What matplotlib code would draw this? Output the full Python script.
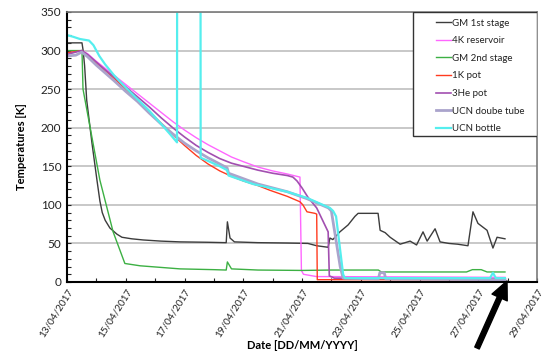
import numpy as np
import matplotlib

matplotlib.use("Agg")
import matplotlib.pyplot as plt
import matplotlib.dates as mdates
from matplotlib.patches import Rectangle

plt.rcParams["font.family"] = ["Lato", "DejaVu Sans"]

# time in days of April 2017, temperature in K
gm1_day = [13.0, 13.51, 13.55, 13.6, 13.67, 13.85, 14.02, 14.12, 14.2, 14.3, 14.46, 14.7,
           14.87, 15.2, 15.59, 16.2, 16.85, 17.8, 18.42, 18.46, 18.55, 18.7, 19.5, 20.5,
           21.2, 21.5, 21.89, 21.95, 22.05, 22.29, 22.57, 22.8, 22.91, 23.59, 23.66, 23.83,
           24.0, 24.34, 24.68, 24.9, 25.12, 25.26, 25.53, 25.7, 26.0, 26.3, 26.65, 26.82,
           26.99, 27.3, 27.5, 27.64, 27.91]
gm1_T = [310, 310, 300, 280, 236, 180, 132, 105, 90, 80, 70, 62,
         58, 56, 54.5, 53, 52, 51.5, 51, 78, 57, 52, 51, 50.5,
         50, 47, 45, 57, 55, 65, 74, 85, 89, 89, 67, 64,
         58, 49, 53, 48, 65, 53, 69, 52, 50, 49, 47, 91,
         76, 67, 44, 58, 56]

k4_day = [13.0, 13.5, 13.7, 14.0, 14.3, 14.6, 15.0, 15.4, 15.8, 16.2, 16.6, 17.0, 17.4,
          17.8, 18.2, 18.6, 19.0, 19.5, 20.0, 20.5, 20.93, 20.98, 21.05, 21.2, 21.5,
          22.0, 27.91]
k4_T = [297, 300, 296, 286, 277, 268, 256, 244, 232, 220, 208, 197, 187,
        178, 170, 162, 156, 149, 144, 140, 136, 15, 10, 9, 7,
        7, 6]

gm2_day = [13.0, 13.51, 13.545, 14.12, 14.57, 14.97, 15.49, 16.85, 18.0, 18.42, 18.46,
           18.6, 19.5, 21.0, 22.0, 23.6, 23.7, 25.0, 26.6, 26.8, 27.1, 27.3, 27.91]
gm2_T = [300, 300, 250, 132, 65, 24, 21, 17, 16, 15.5, 26,
         17, 15.5, 15, 15.5, 15.5, 13, 13, 13, 16, 16, 13, 13]

k1_day = [13.0, 13.5, 13.7, 14.0, 14.3, 14.6, 15.0, 15.4, 15.8, 16.2, 16.6, 17.0, 17.4,
          17.8, 18.2, 18.6, 19.0, 19.5, 19.9, 20.5, 20.93, 21.03, 21.17, 21.44, 21.5,
          21.52, 27.91]
k1_T = [297, 300, 294, 284, 274, 264, 250, 236, 221, 206, 191, 177, 164,
        153, 144, 137, 131, 125, 119, 111, 104, 100, 91, 89, 88,
        3, 3]

he3_day = [13.0, 13.5, 13.7, 14.0, 14.3, 14.6, 15.0, 15.4, 15.8, 16.2, 16.6, 17.0, 17.4,
           17.8, 18.2, 18.6, 19.0, 19.5, 20.0, 20.5, 20.69, 20.83, 21.0, 21.2, 21.5,
           21.89, 21.93, 22.1, 27.91]
he3_T = [295, 300, 295, 285, 275, 266, 253, 240, 227, 213, 200, 188, 177,
         168, 160, 154, 150, 145, 141, 138, 136, 131, 122, 110, 96,
         65, 8, 5, 4]

tube_day = [13.0, 13.3, 13.5, 13.7, 14.0, 14.3, 14.6, 15.0, 15.4, 15.8, 16.2, 16.6, 17.0,
            17.4, 17.8, 18.2, 18.45, 18.5, 19.0, 19.5, 20.0, 20.5, 21.17, 21.9, 22.0,
            22.3, 22.4, 23.6, 23.65, 23.8, 23.85, 27.91]
tube_T = [293, 294, 298, 292, 281, 271, 261, 247, 234, 219, 205, 192, 180,
          170, 161, 153, 148, 141, 134, 127, 122, 117, 108, 96, 92,
          20, 5, 4, 12, 12, 4, 3]

bottle_day = [13.0, 13.2, 13.44, 13.75, 13.9, 14.1, 14.3, 14.6, 15.0, 15.4, 15.8, 16.2,
              16.5, 16.745, 16.75, 17.545, 17.55, 17.8, 18.2, 18.45, 18.5, 19.33, 20.49,
              21.17, 21.95, 22.06, 22.16, 22.4, 22.46, 27.4, 27.5, 27.6, 27.91]
bottle_T = [320, 318, 315, 313, 307, 293, 282, 268, 252, 237, 222, 205,
            192, 181, 420, 420, 161, 157, 150, 145, 138, 127, 117,
            109, 96, 92, 85, 10, 5, 5, 12, 5, 5]

series = [
    ("GM 1st stage", gm1_day, gm1_T, "#3c3c3c", 1.0),
    ("4K reservoir", k4_day, k4_T, "#ff66ff", 1.0),
    ("GM 2nd stage", gm2_day, gm2_T, "#3cb043", 1.0),
    ("1K pot", k1_day, k1_T, "#ff3b1f", 1.0),
    ("3He pot", he3_day, he3_T, "#a24fb0", 1.2),
    ("UCN doube tube", tube_day, tube_T, "#aaa4cc", 2.0),
    ("UCN bottle", bottle_day, bottle_T, "#55eeee", 1.6),
]


def to_dates(days):
    base = np.datetime64("2017-04-01T00:00")
    return base + (np.array(days) - 1.0) * np.timedelta64(86400, "s")


fig = plt.figure(figsize=(5.51, 3.57), dpi=100)
ax = fig.add_axes([67 / 551, 1 - 282 / 357, 470 / 551, 270 / 357])

handles = []
for name, d, t, c, lw in series:
    h, = ax.plot(to_dates(d), t, color=c, lw=lw, label=name)
    handles.append(h)

ax.set_ylim(0, 350)
ax.set_xlim(to_dates([13.0])[0], to_dates([29.0])[0])
ax.set_yticks(np.arange(0, 351, 50))
ax.set_yticks(np.arange(0, 351, 10), minor=True)
ax.yaxis.grid(True, color="#c8c8c8", lw=1.4)
ax.set_axisbelow(True)

ax.xaxis.set_major_locator(mdates.DayLocator(bymonthday=range(13, 30, 2)))
ax.xaxis.set_minor_locator(mdates.DayLocator())
ax.xaxis.set_major_formatter(mdates.DateFormatter("%d/%m/%Y"))
ax.tick_params(axis="both", which="both", direction="in", length=3, width=0.8,
               colors="#222222")
ax.tick_params(axis="y", pad=4, labelsize=8.5)
ax.tick_params(axis="x", labelsize=7.2)
for lab in ax.get_xticklabels():
    lab.set_rotation(58)
    lab.set_ha("right")
    lab.set_rotation_mode("anchor")

for s in ("left", "bottom"):
    ax.spines[s].set_color("black")
    ax.spines[s].set_linewidth(1.5)
for s in ("top", "right"):
    ax.spines[s].set_color("#7a7a7a")
    ax.spines[s].set_linewidth(1.2)

ax.set_ylabel("Temperatures [K]", fontsize=8, fontweight="bold")
ax.yaxis.set_label_coords(-0.085, 0.5)
ax.set_xlabel("Date [DD/MM/YYYY]", fontsize=8, fontweight="bold")
ax.xaxis.set_label_coords(0.5, -0.215)

box = Rectangle((0.736, 0.541), 0.264, 0.459, transform=ax.transAxes,
                facecolor="white", edgecolor="#333333", lw=1.0, zorder=5)
ax.add_patch(box)
leg = ax.legend(handles=handles, loc="upper left", bbox_to_anchor=(0.785, 0.975),
                frameon=False, fontsize=7, handlelength=1.5, handletextpad=0.2,
                labelspacing=0.88, borderpad=0, borderaxespad=0)
leg.set_zorder(6)
for txt in leg.get_texts():
    txt.set_color("#222222")

ax.annotate("", xy=(507 / 551, 1 - 281 / 357), xytext=(477 / 551, 1 - 348 / 357),
            xycoords="figure fraction", textcoords="figure fraction",
            arrowprops=dict(width=3.5, headwidth=12, headlength=13, color="black"),
            annotation_clip=False)

fig.savefig("out.png", dpi=100)
